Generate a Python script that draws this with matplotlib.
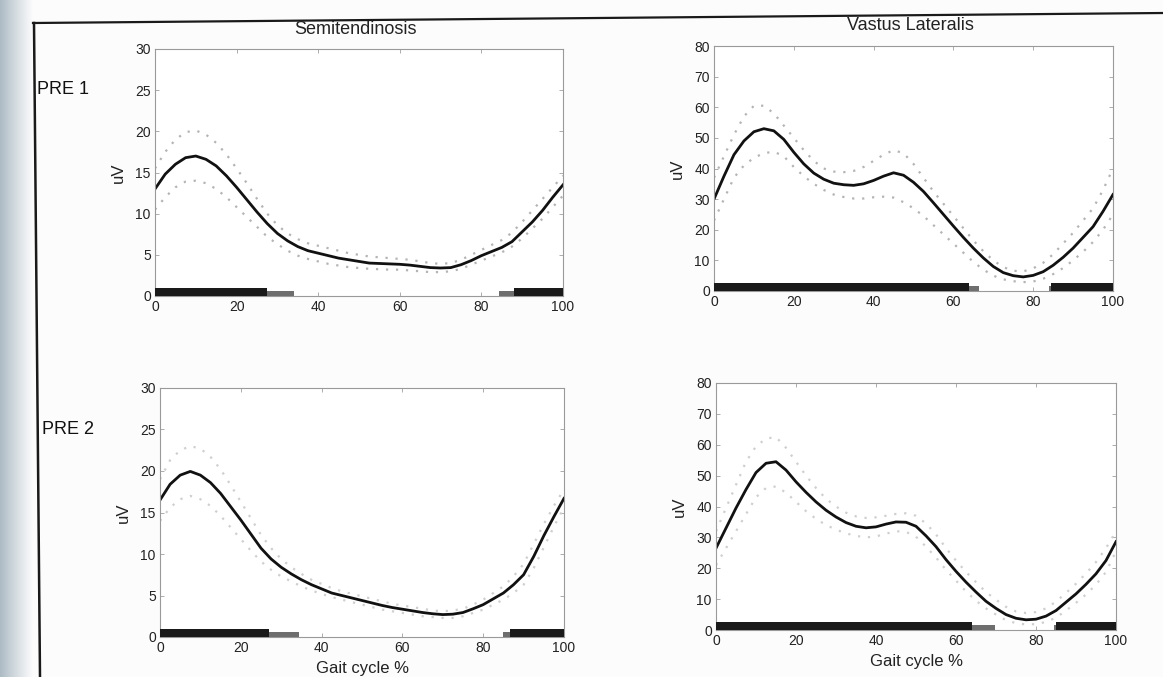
import numpy as np
import matplotlib
matplotlib.use("Agg")
import matplotlib.pyplot as plt
from matplotlib.lines import Line2D
from matplotlib.colors import LinearSegmentedColormap

plt.rcParams['font.family'] = ['Liberation Sans', 'DejaVu Sans']

# ---- gait cycle samples (%) ----
gait = [0, 2.5, 5, 7.5, 10, 12.5, 15, 17.5, 20, 22.5, 25, 27.5, 30, 32.5, 35, 37.5, 40,
        42.5, 45, 47.5, 50, 52.5, 55, 57.5, 60, 62.5, 65, 67.5, 70, 72.5, 75, 77.5, 80,
        82.5, 85, 87.5, 90, 92.5, 95, 97.5, 100]

# ---- Semitendinosis, PRE 1 (uV): mean and +/- SD envelopes ----
st_pre1_mean = [13.0, 14.8, 16.0, 16.8, 17.0, 16.6, 15.8, 14.6, 13.2, 11.7, 10.2, 8.8, 7.6, 6.7,
                6.0, 5.5, 5.2, 4.9, 4.6, 4.4, 4.2, 4.0, 3.95, 3.9, 3.85, 3.75, 3.6, 3.45, 3.4,
                3.45, 3.8, 4.3, 4.9, 5.4, 5.9, 6.6, 7.8, 9.0, 10.4, 12.0, 13.5]
st_pre1_upper = [15.5, 17.5, 19.0, 19.9, 20.1, 19.6, 18.6, 17.2, 15.5, 13.7, 11.8, 10.0, 8.6, 7.6,
                 6.9, 6.4, 6.1, 5.8, 5.5, 5.2, 5.0, 4.8, 4.7, 4.6, 4.5, 4.4, 4.2, 4.0, 3.9,
                 4.0, 4.4, 5.0, 5.6, 6.2, 6.8, 7.7, 9.0, 10.4, 11.8, 13.2, 14.6]
st_pre1_lower = [10.5, 12.0, 13.2, 13.9, 14.0, 13.7, 13.0, 12.0, 10.8, 9.6, 8.4, 7.2, 6.3, 5.5,
                 4.9, 4.5, 4.2, 3.9, 3.7, 3.5, 3.4, 3.3, 3.25, 3.2, 3.2, 3.1, 3.0, 2.9, 2.9,
                 3.0, 3.3, 3.8, 4.3, 4.8, 5.3, 6.0, 7.0, 8.2, 9.4, 10.8, 12.2]

# ---- Vastus Lateralis, PRE 1 (uV) ----
vl_pre1_mean = [30.0, 37.5, 44.5, 49.0, 52.0, 53.0, 52.3, 49.5, 45.3, 41.5, 38.5, 36.5, 35.2, 34.7,
                34.5, 35.0, 36.1, 37.5, 38.6, 37.8, 35.5, 32.5, 28.8, 25.0, 21.2, 17.5, 14.0, 10.8,
                8.0, 6.0, 5.0, 4.6, 5.1, 6.3, 8.4, 11.0, 14.0, 17.5, 21.0, 26.0, 31.5]
vl_pre1_upper = [37.0, 44.0, 51.0, 57.0, 60.5, 60.5, 58.0, 54.0, 50.0, 46.0, 42.5, 40.0, 39.0, 38.8,
                 39.2, 40.5, 42.5, 44.5, 46.0, 45.0, 41.5, 37.0, 32.5, 28.5, 24.5, 20.5, 16.5, 13.0,
                 10.0, 7.8, 6.6, 6.4, 7.4, 9.2, 12.0, 15.5, 19.0, 23.0, 27.0, 33.0, 40.0]
vl_pre1_lower = [23.0, 30.0, 37.0, 41.0, 43.5, 45.0, 45.5, 44.0, 40.5, 37.5, 35.0, 33.0, 31.5, 30.7,
                 30.2, 30.2, 30.6, 30.8, 30.5, 29.0, 27.0, 24.5, 21.5, 18.5, 15.5, 12.5, 9.5, 7.0,
                 5.0, 3.8, 3.2, 2.9, 3.1, 4.0, 5.5, 7.5, 10.0, 12.8, 16.0, 20.0, 25.0]

# ---- Semitendinosis, PRE 2 (uV) ----
st_pre2_mean = [16.5, 18.4, 19.5, 19.95, 19.5, 18.6, 17.3, 15.7, 14.1, 12.4, 10.7, 9.4, 8.4, 7.6,
                6.9, 6.3, 5.8, 5.3, 5.0, 4.7, 4.4, 4.1, 3.8, 3.55, 3.35, 3.15, 2.95, 2.8, 2.7,
                2.75, 2.95, 3.4, 3.9, 4.6, 5.3, 6.3, 7.5, 9.7, 12.2, 14.5, 16.7]
st_pre2_upper = [19.0, 21.3, 22.5, 23.0, 22.7, 21.7, 20.2, 18.3, 16.3, 14.3, 12.3, 10.7, 9.4, 8.4,
                 7.6, 6.9, 6.4, 5.9, 5.5, 5.2, 4.9, 4.6, 4.3, 4.0, 3.8, 3.6, 3.4, 3.2, 3.1,
                 3.2, 3.4, 3.9, 4.5, 5.3, 6.1, 7.3, 8.8, 11.2, 13.6, 15.8, 17.8]
st_pre2_lower = [14.0, 15.6, 16.6, 17.0, 16.6, 15.8, 14.6, 13.2, 11.8, 10.4, 9.1, 8.1, 7.3, 6.7,
                 6.1, 5.6, 5.2, 4.8, 4.5, 4.2, 3.9, 3.6, 3.3, 3.1, 2.9, 2.7, 2.5, 2.4, 2.3,
                 2.3, 2.5, 2.9, 3.3, 3.9, 4.5, 5.3, 6.3, 8.3, 10.8, 13.3, 15.6]

# ---- Vastus Lateralis, PRE 2 (uV) ----
vl_pre2_mean = [26.5, 33.0, 39.5, 45.5, 51.0, 54.0, 54.5, 51.8, 48.0, 44.6, 41.5, 38.8, 36.6, 34.8,
                33.6, 33.1, 33.4, 34.3, 35.0, 34.9, 33.6, 30.5, 27.0, 22.8, 19.0, 15.5, 12.3, 9.3,
                7.0, 5.0, 3.8, 3.3, 3.5, 4.5, 6.3, 9.0, 11.7, 14.8, 18.2, 22.5, 28.6]
vl_pre2_upper = [32.0, 39.5, 47.0, 54.5, 59.5, 62.0, 62.5, 59.0, 54.5, 50.0, 46.0, 42.5, 40.0, 38.0,
                 36.8, 36.3, 36.5, 37.0, 37.6, 37.8, 37.0, 34.5, 31.0, 26.5, 22.5, 18.8, 15.5, 12.3,
                 9.8, 7.5, 6.0, 5.5, 5.8, 7.0, 9.2, 12.0, 15.0, 18.3, 22.0, 26.5, 32.0]
vl_pre2_lower = [21.0, 26.5, 32.0, 37.5, 43.0, 46.0, 46.5, 44.5, 41.5, 38.5, 36.0, 34.0, 32.5, 31.3,
                 30.5, 30.0, 30.3, 31.2, 32.0, 31.8, 30.2, 27.0, 23.5, 19.5, 16.0, 12.5, 9.5, 7.0,
                 5.0, 3.2, 2.2, 1.8, 1.9, 2.6, 4.0, 6.3, 8.8, 11.5, 14.7, 18.8, 25.5]

# ---- muscle on/off segments (start %, end %) ----
st_pre1_on = [(0, 27.5), (88, 100)]
st_pre1_trans = [(27.5, 34), (84.2, 88)]
vl_pre1_on = [(0, 64), (84.5, 100)]
vl_pre1_trans = [(64, 66.5), (84, 84.5)]
st_pre2_on = [(0, 27), (86.7, 100)]
st_pre2_trans = [(27, 34.3), (84.8, 86.7)]
vl_pre2_on = [(0, 64), (85, 100)]
vl_pre2_trans = [(64, 69.7), (84.5, 85)]

x_ticks = [0, 20, 40, 60, 80, 100]
st_ticks = [0, 5, 10, 15, 20, 25, 30]
vl_ticks = [0, 10, 20, 30, 40, 50, 60, 70, 80]

muscles = ["Semitendinosis", "Vastus Lateralis"]
sessions = ["PRE 1", "PRE 2"]

W, H = 1163, 677
fig = plt.figure(figsize=(W / 100, H / 100), dpi=100)
fig.patch.set_facecolor("#fcfcfc")


def px_rect(left, right, top, bottom):
    return [left / W, 1 - bottom / H, (right - left) / W, (bottom - top) / H]


# shaded page edge on the left
shade = fig.add_axes([0, 0, 0.028, 1], zorder=-5)
shade.imshow(np.linspace(0, 1, 64)[None, :], aspect="auto",
             cmap=LinearSegmentedColormap.from_list("edge", ["#adbbc5", "#d6dde2", "#fcfcfc"]),
             extent=[0, 1, 0, 1])
shade.axis("off")

positions = {
    (0, 0): px_rect(155, 563, 49, 296),
    (0, 1): px_rect(714, 1113, 46, 291),
    (1, 0): px_rect(160, 564, 388, 637),
    (1, 1): px_rect(716, 1116, 383, 630),
}

panels = {
    (0, 0): (st_pre1_mean, st_pre1_upper, st_pre1_lower, st_pre1_on, st_pre1_trans, 30, st_ticks, 1.0),
    (0, 1): (vl_pre1_mean, vl_pre1_upper, vl_pre1_lower, vl_pre1_on, vl_pre1_trans, 80, vl_ticks, 2.6),
    (1, 0): (st_pre2_mean, st_pre2_upper, st_pre2_lower, st_pre2_on, st_pre2_trans, 30, st_ticks, 1.0),
    (1, 1): (vl_pre2_mean, vl_pre2_upper, vl_pre2_lower, vl_pre2_on, vl_pre2_trans, 80, vl_ticks, 2.6),
}

for (r, c), (mean, up, lo, on, trans, ymax, yt, bh) in panels.items():
    ax = fig.add_axes(positions[(r, c)])
    ax.set_facecolor("white")
    sd_col = "#b4b4b4" if r == 0 else "#cfcfcf"
    ax.plot(gait, up, ls=(0, (1, 3.5)), color=sd_col, lw=1.6)
    ax.plot(gait, lo, ls=(0, (1, 3.5)), color=sd_col, lw=1.6)
    ax.plot(gait, mean, color="#111111", lw=2.0, solid_joinstyle="round")
    for a, b in trans:
        ax.fill_between([a, b], 0, bh * 0.6, color="#6e6e6e", lw=0, zorder=3)
    for a, b in on:
        ax.fill_between([a, b], 0, bh, color="#1a1a1a", lw=0, zorder=4)
    ax.set_xlim(0, 100)
    ax.set_ylim(0, ymax)
    ax.set_xticks(x_ticks)
    ax.set_yticks(yt)
    ax.tick_params(direction="in", length=3, width=0.6, color="#a0a0a0",
                   top=True, right=True, labelsize=10, pad=3, labelcolor="#222222")
    for sp in ax.spines.values():
        sp.set_color("#9a9a9a")
        sp.set_linewidth(0.8)
    ax.set_ylabel("uV", fontsize=12, color="#222222")
    ax.yaxis.set_label_coords(-0.072, 0.5)
    if r == 1:
        ax.set_xlabel("Gait cycle %", fontsize=12, labelpad=4, color="#222222")

fig.text(355 / W, 1 - 29 / H, muscles[0], ha="center", va="center", fontsize=13, color="#222222")
fig.text(910 / W, 1 - 26 / H, muscles[1], ha="center", va="center", fontsize=13, color="#222222")
fig.text(37 / W, 1 - 89 / H, sessions[0], ha="left", va="center", fontsize=13, color="#111111")
fig.text(42 / W, 1 - 429 / H, sessions[1], ha="left", va="center", fontsize=13, color="#111111")

# page frame lines
fig.add_artist(Line2D([33 / W, 1.0], [1 - 23 / H, 1 - 13 / H], color="#1a1a1a", lw=1.6))
fig.add_artist(Line2D([34 / W, 40 / W], [1 - 23 / H, 0.0], color="#1a1a1a", lw=1.8))

fig.savefig("out.png", dpi=100, facecolor=fig.get_facecolor())
